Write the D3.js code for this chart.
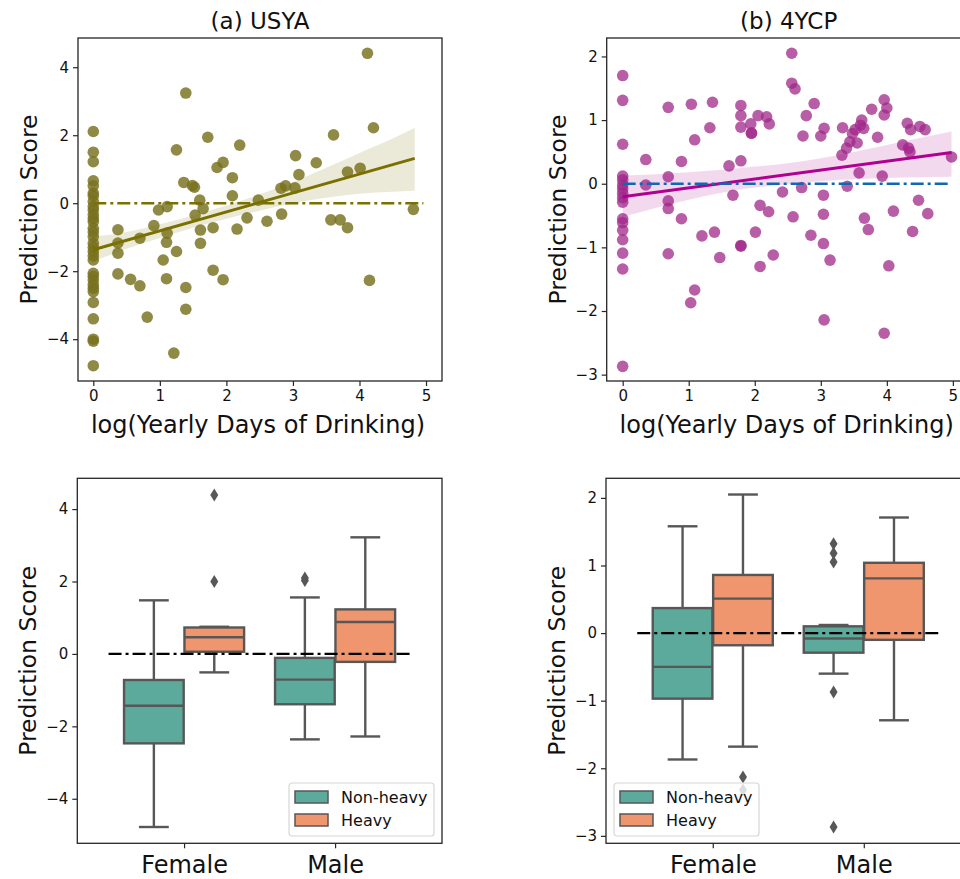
<!DOCTYPE html>
<html>
<head>
<meta charset="utf-8">
<script src="https://cdn.jsdelivr.net/npm/d3@7"></script>
<style>
body { margin: 0; background: #fff; }
svg { display: block; font-family: "DejaVu Sans", sans-serif; }
</style>
</head>
<body>
<div id="chart"></div>
<script>
// ---- data ----
// (a) USYA : [log days, score]
const usyaPoints = [
  [0, 2.11], [0, 1.50], [0, 1.22], [0, 0.66], [0, 0.51], [0, 0.30], [0, 0.22], [0, 0.05],
  [0, -0.10], [0, -0.20], [0, -0.34], [0, -0.45], [0, -0.54], [0, -0.74], [0, -0.85], [0, -0.98],
  [0, -1.18], [0, -1.30], [0, -1.42], [0, -1.55], [0, -1.67], [0, -2.06], [0, -2.15], [0, -2.26],
  [0, -2.40], [0, -2.50], [0, -2.60], [0, -2.92], [0, -3.40], [0, -4.00], [0, -4.06], [0, -4.78],
  [0.37, -0.78], [0.37, -1.17], [0.37, -1.47], [0.37, -2.08], [0.56, -2.24], [0.70, -1.03],
  [0.70, -2.43], [0.81, -3.35], [0.91, -0.66], [0.98, -0.20], [1.11, -0.10], [1.11, -0.88],
  [1.10, -1.15], [1.05, -1.67], [1.10, -2.22], [1.25, 1.57], [1.25, -1.42], [1.21, -4.41],
  [1.39, 3.24], [1.36, 0.61], [1.49, 0.52], [1.52, 0.47], [1.53, -0.35], [1.60, 0.09],
  [1.65, -0.16], [1.61, -0.79], [1.61, -1.18], [1.39, -2.48], [1.39, -3.12], [1.72, 1.94],
  [1.86, 1.05], [1.95, 1.20], [1.80, -0.72], [1.80, -1.97], [1.95, -2.25], [2.09, 0.75],
  [2.09, 0.22], [2.20, 1.71], [2.16, -0.76], [2.31, -0.43], [2.48, 0.09], [2.61, -0.53],
  [2.83, -0.32], [2.82, 0.44], [2.89, 0.51], [3.03, 0.45], [3.04, 1.40], [3.09, 0.84],
  [3.35, 1.19], [3.61, 2.01], [3.57, -0.49], [3.71, -0.49], [3.82, 0.92], [3.82, -0.72],
  [4.01, 1.03], [4.12, 4.41], [4.21, 2.22], [4.15, -2.27], [4.81, -0.18]
];
// fitted line and confidence band: [x, low, high]
const usyaFit = [[0, -1.37], [4.83, 1.32]];
const usyaBand = [
  [0, -1.71, -0.99], [0.5, -1.34, -0.85], [1, -1.02, -0.62], [1.5, -0.72, -0.36],
  [2, -0.46, -0.07], [2.5, -0.22, 0.26], [3, 0.0, 0.62], [3.5, 0.16, 1.04],
  [4, 0.28, 1.48], [4.5, 0.34, 1.90], [4.83, 0.37, 2.22]
];

// (b) 4YCP : [log days, score]
const ycpPoints = [
  [0, 1.70], [0, 1.31], [0, 0.62], [0, 0.12], [0, 0.06], [0, -0.02], [0, -0.08], [0, -0.15],
  [0, -0.22], [0, -0.29], [0, -0.55], [0, -0.61], [0, -0.73], [0, -0.88], [0, -1.09], [0, -1.34],
  [0, -2.87],
  [0.35, 0.38], [0.35, -0.02], [0.69, 1.20], [0.69, 0.11], [0.69, -0.27], [0.69, -0.39],
  [0.69, -1.10], [0.89, 0.35], [0.89, -0.55], [1.04, 1.25], [1.09, 0.69], [1.09, -1.67],
  [1.03, -1.87], [1.20, -0.82], [1.36, 1.28], [1.32, 0.88], [1.39, -0.76], [1.47, -1.16],
  [1.61, 0.28], [1.67, -0.18], [1.79, 1.23], [1.79, 1.07], [1.79, 0.89], [1.79, 0.36],
  [1.79, -0.97], [1.79, -0.98], [1.94, 0.94], [1.95, 0.79], [1.95, 0.80], [2.01, -0.76],
  [2.05, 1.07], [2.08, -0.34], [2.08, -1.30], [2.18, 1.05], [2.21, -0.44], [2.22, 0.94],
  [2.28, -1.12], [2.42, -0.13], [2.56, 2.05], [2.56, 1.58], [2.61, 1.49], [2.58, -0.52],
  [2.71, -0.06], [2.73, 0.75], [2.78, 1.07], [2.90, 1.26], [2.85, -0.81], [3.00, 0.75],
  [3.05, 0.87], [3.04, -0.18], [3.04, -0.48], [3.04, -0.94], [3.14, -1.20], [3.05, -2.14],
  [3.32, 0.45], [3.33, 0.88], [3.40, -0.04], [3.44, 0.66], [3.39, 0.56], [3.52, 0.85],
  [3.48, 0.79], [3.55, 0.64], [3.62, 1.00], [3.60, 0.92], [3.65, 0.87], [3.58, 0.17],
  [3.66, -0.54], [3.72, -0.72], [3.77, 1.17], [3.86, 0.73], [3.96, 1.32], [4.00, 1.19],
  [3.96, 1.08], [3.93, 0.12], [4.03, -1.29], [3.96, -2.35], [4.10, -0.43], [4.24, 0.61],
  [4.31, 0.95], [4.33, 0.56], [4.35, 0.50], [4.36, 0.85], [4.39, -0.75], [4.48, -0.26],
  [4.50, 0.90], [4.58, 0.85], [4.62, -0.47], [4.98, 0.42]
];
const ycpFit = [[0, -0.205], [4.98, 0.49]];
const ycpBand = [
  [0, -0.52, 0.13], [0.5, -0.38, 0.15], [1, -0.25, 0.18], [1.5, -0.14, 0.22],
  [2, -0.06, 0.27], [2.5, -0.01, 0.32], [3, 0.04, 0.40], [3.5, 0.07, 0.50],
  [4, 0.09, 0.61], [4.5, 0.10, 0.72], [4.98, 0.11, 0.82]
];

const scatterXTicks = [0, 1, 2, 3, 4, 5];
const usyaYTicks = [-4, -2, 0, 2, 4];
const ycpYTicks = [-3, -2, -1, 0, 1, 2];

// box plots: [whisker low, q1, median, q3, whisker high]
const sexes = ["Female", "Male"];
const groups = ["Non-heavy", "Heavy"];
const usyaBoxes = [
  [[-4.78, -2.47, -1.43, -0.72, 1.48], [-0.51, 0.06, 0.46, 0.73, 0.75]],
  [[-2.36, -1.39, -0.71, -0.11, 1.56], [-2.28, -0.22, 0.88, 1.23, 3.22]]
];
const usyaOutliers = [
  [[], [4.39, 2.0]],
  [[2.10, 2.03], []]
];
const ycpBoxes = [
  [[-1.87, -0.97, -0.50, 0.37, 1.58], [-1.68, -0.18, 0.51, 0.86, 2.05]],
  [[-0.60, -0.29, -0.08, 0.10, 0.12], [-1.29, -0.10, 0.81, 1.04, 1.71]]
];
const ycpOutliers = [
  [[], [-2.13, -2.32]],
  [[1.32, 1.18, 1.05, -0.87, -2.87], []]
];

// ---- drawing ----
const svg = d3.select("#chart").append("svg")
  .attr("width", 960)
  .attr("height", 879);

const axisColor = "#262626";
const boxGray = "#575757";
const hueColors = ["#5caa9b", "#ef966f"];
const minus = s => String(s).replace("-", "\u2212");

function frame(o) {
  svg.append("rect")
    .attr("x", o.left).attr("y", o.top)
    .attr("width", o.right - o.left).attr("height", o.bottom - o.top)
    .attr("fill", "none")
    .attr("stroke", axisColor)
    .attr("stroke-width", 1.3);
}

function yAxis(o, y, ticks) {
  const ax = svg.append("g")
    .attr("transform", "translate(" + o.left + ",0)")
    .call(d3.axisLeft(y).tickValues(ticks).tickSize(5).tickPadding(4).tickFormat(minus));
  ax.select(".domain").remove();
  ax.selectAll("line").attr("stroke", axisColor).attr("stroke-width", 1.2);
  ax.selectAll("text").attr("font-size", 15).attr("fill", "#111")
    .attr("font-family", "DejaVu Sans");
  svg.append("text")
    .attr("transform", "translate(" + (o.left - 41) + "," + ((o.top + o.bottom) / 2) + ") rotate(-90)")
    .attr("text-anchor", "middle")
    .attr("font-size", 23.5)
    .attr("fill", "#111")
    .text("Prediction Score");
}

function drawScatter(o) {
  const x = d3.scaleLinear().domain(o.xDomain).range([o.left, o.right]);
  const y = d3.scaleLinear().domain(o.yDomain).range([o.bottom, o.top]);

  const clipId = "clip" + o.id;
  svg.append("clipPath").attr("id", clipId).append("rect")
    .attr("x", o.left).attr("y", o.top)
    .attr("width", o.right - o.left).attr("height", o.bottom - o.top);
  const g = svg.append("g").attr("clip-path", "url(#" + clipId + ")");

  g.selectAll("circle")
    .data(o.points)
    .enter()
    .append("circle")
    .attr("cx", d => x(d[0]))
    .attr("cy", d => y(d[1]))
    .attr("r", 5.8)
    .attr("fill", o.pointColor)
    .attr("fill-opacity", o.pointOpacity);

  const area = d3.area()
    .x(d => x(d[0]))
    .y0(d => y(d[1]))
    .y1(d => y(d[2]))
    .curve(d3.curveMonotoneX);
  g.append("path")
    .datum(o.band)
    .attr("d", area)
    .attr("fill", o.lineColor)
    .attr("fill-opacity", 0.15);

  g.append("path")
    .datum(o.fit)
    .attr("d", d3.line().x(d => x(d[0])).y(d => y(d[1])))
    .attr("stroke", o.lineColor)
    .attr("stroke-width", 3)
    .attr("fill", "none");

  // zero reference
  g.append("line")
    .attr("x1", x(0)).attr("x2", x(o.zeroEnd))
    .attr("y1", y(0)).attr("y2", y(0))
    .attr("stroke", o.zeroColor)
    .attr("stroke-width", 2.4)
    .attr("stroke-dasharray", "13,4,3,4");

  frame(o);

  const xa = svg.append("g")
    .attr("transform", "translate(0," + o.bottom + ")")
    .call(d3.axisBottom(x).tickValues(scatterXTicks).tickSize(5).tickPadding(4)
      .tickFormat(d3.format("d")));
  xa.select(".domain").remove();
  xa.selectAll("line").attr("stroke", axisColor).attr("stroke-width", 1.2);
  xa.selectAll("text").attr("font-size", 15).attr("fill", "#111")
    .attr("font-family", "DejaVu Sans");

  yAxis(o, y, o.yTicks);

  svg.append("text")
    .attr("x", (o.left + o.right) / 2 - 2)
    .attr("y", o.bottom + 52)
    .attr("text-anchor", "middle")
    .attr("font-size", 24)
    .attr("fill", "#111")
    .text("log(Yearly Days of Drinking)");

  svg.append("text")
    .attr("x", (o.left + o.right) / 2)
    .attr("y", o.top - 9)
    .attr("text-anchor", "middle")
    .attr("font-size", 23)
    .attr("fill", "#111")
    .text(o.title);
}

function drawBox(o) {
  const x = d3.scaleLinear().domain([-0.707, 1.708]).range([o.left, o.right]);
  const y = d3.scaleLinear().domain(o.yDomain).range([o.bottom, o.top]);
  const offsets = [-0.2, 0.2];
  const bw = x(0.395) - x(0);
  const g = svg.append("g");

  sexes.forEach(function (sex, i) {
    groups.forEach(function (grp, j) {
      const s = o.boxes[i][j];
      const cx = x(i + offsets[j]);
      // whiskers
      g.append("line")
        .attr("x1", cx).attr("x2", cx)
        .attr("y1", y(s[0])).attr("y2", y(s[1]))
        .attr("stroke", boxGray).attr("stroke-width", 2.4);
      g.append("line")
        .attr("x1", cx).attr("x2", cx)
        .attr("y1", y(s[3])).attr("y2", y(s[4]))
        .attr("stroke", boxGray).attr("stroke-width", 2.4);
      [s[0], s[4]].forEach(function (v) {
        g.append("line")
          .attr("x1", cx - bw / 4).attr("x2", cx + bw / 4)
          .attr("y1", y(v)).attr("y2", y(v))
          .attr("stroke", boxGray).attr("stroke-width", 2.4);
      });
      g.append("rect")
        .attr("x", cx - bw / 2).attr("width", bw)
        .attr("y", y(s[3])).attr("height", y(s[1]) - y(s[3]))
        .attr("fill", hueColors[j])
        .attr("stroke", boxGray).attr("stroke-width", 2.4);
      g.append("line")
        .attr("x1", cx - bw / 2).attr("x2", cx + bw / 2)
        .attr("y1", y(s[2])).attr("y2", y(s[2]))
        .attr("stroke", boxGray).attr("stroke-width", 2.4);
      g.selectAll(null)
        .data(o.outliers[i][j])
        .enter()
        .append("path")
        .attr("d", "M0,-6.5L4,0L0,6.5L-4,0Z")
        .attr("transform", d => "translate(" + cx + "," + y(d) + ")")
        .attr("fill", boxGray);
    });
  });

  g.append("line")
    .attr("x1", x(-0.5)).attr("x2", x(1.5))
    .attr("y1", y(0)).attr("y2", y(0))
    .attr("stroke", "#000")
    .attr("stroke-width", 2.4)
    .attr("stroke-dasharray", "13,4,3,4");

  frame(o);

  const xa = svg.append("g")
    .attr("transform", "translate(0," + o.bottom + ")")
    .call(d3.axisBottom(x).tickValues([0, 1]).tickSize(5).tickPadding(8)
      .tickFormat((d, k) => sexes[k]));
  xa.select(".domain").remove();
  xa.selectAll("line").attr("stroke", axisColor).attr("stroke-width", 1.2);
  xa.selectAll("text").attr("font-size", 24).attr("fill", "#111")
    .attr("font-family", "DejaVu Sans");

  yAxis(o, y, o.yTicks);

  // legend
  const lg = svg.append("g").attr("transform", "translate(" + o.legendX + ",783)");
  lg.append("rect")
    .attr("width", 145).attr("height", 53).attr("rx", 3)
    .attr("fill", "#fff").attr("fill-opacity", 0.8)
    .attr("stroke", "#d6d6d6").attr("stroke-width", 1.2);
  groups.forEach(function (grp, j) {
    lg.append("rect")
      .attr("x", 6).attr("y", 8 + j * 23)
      .attr("width", 33).attr("height", 12)
      .attr("fill", hueColors[j])
      .attr("stroke", boxGray).attr("stroke-width", 1.5);
    lg.append("text")
      .attr("x", 52).attr("y", 20 + j * 23)
      .attr("font-size", 16)
      .attr("fill", "#111")
      .text(grp);
  });
}

drawScatter({
  id: "a", title: "(a) USYA",
  left: 78, right: 442, top: 38, bottom: 381,
  xDomain: [-0.23, 5.24], yDomain: [-5.23, 4.86], yTicks: usyaYTicks,
  points: usyaPoints, fit: usyaFit, band: usyaBand, zeroEnd: 4.96,
  pointColor: "#77701f", pointOpacity: 0.82,
  lineColor: "#7a7000", zeroColor: "#7a7000"
});

drawScatter({
  id: "b", title: "(b) 4YCP",
  left: 606.7, right: 970.7, top: 38, bottom: 381,
  xDomain: [-0.242, 5.27], yDomain: [-3.10, 2.29], yTicks: ycpYTicks,
  points: ycpPoints, fit: ycpFit, band: ycpBand, zeroEnd: 4.98,
  pointColor: "#a0288a", pointOpacity: 0.75,
  lineColor: "#b0008f", zeroColor: "#1268b0"
});

drawBox({
  left: 77.3, right: 442, top: 478.3, bottom: 843.3,
  yDomain: [-5.23, 4.85], yTicks: usyaYTicks,
  boxes: usyaBoxes, outliers: usyaOutliers, legendX: 289
});

drawBox({
  left: 606, right: 970.7, top: 478.3, bottom: 843.3,
  yDomain: [-3.11, 2.29], yTicks: ycpYTicks,
  boxes: ycpBoxes, outliers: ycpOutliers, legendX: 614
});
</script>
</body>
</html>
